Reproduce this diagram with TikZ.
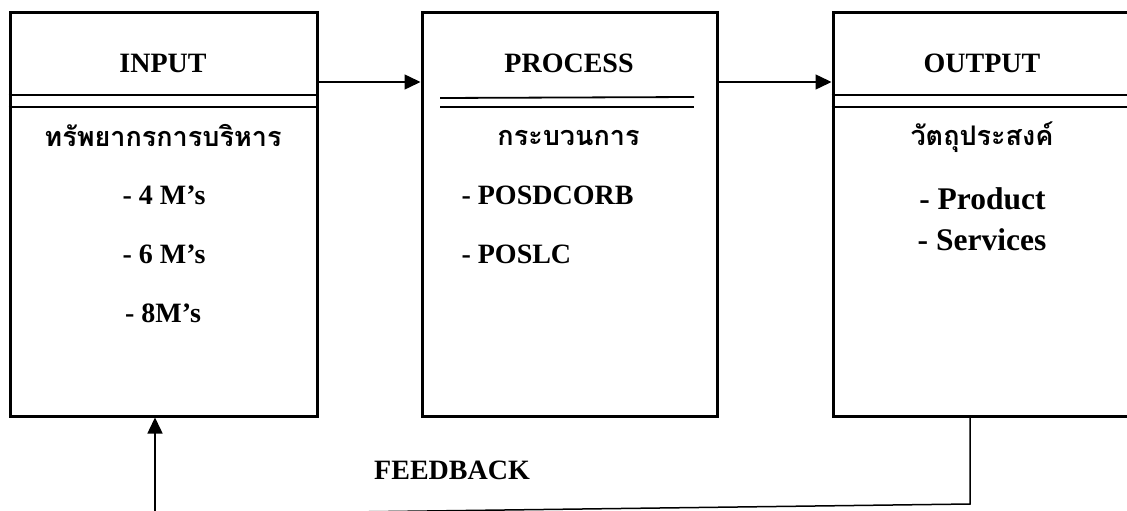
\documentclass[tikz,border=0pt]{standalone}
\usepackage{fontspec}
\setmainfont{Liberation Serif}
\newfontfamily\thaifont[Script=Thai]{Loma}
\usetikzlibrary{arrows.meta}
\begin{document}
\begin{tikzpicture}[x=1pt,y=-1pt,
  box/.style={draw,line width=3pt,minimum width=#1,minimum height=403pt,inner sep=0pt},
  dbl/.style={line width=1.8pt},
  arr/.style={line width=1.5pt,-{Triangle[length=16pt,width=15pt]}},
  fb/.style={line width=1.5pt},
  hd/.style={anchor=base,font=\fontsize{28}{30}\selectfont\bfseries},
  th/.style={anchor=base,font=\fontsize{27}{30}\selectfont\thaifont\bfseries},
  itA/.style={anchor=base,font=\fontsize{28}{30}\selectfont\bfseries},
  itB/.style={anchor=base west,font=\fontsize{28}{30}\selectfont\bfseries},
  itC/.style={anchor=base,font=\fontsize{31.5}{33}\selectfont\bfseries}]
\useasboundingbox (0,0) rectangle (1127,511);
\node[box=307pt] (inbox) at (163.5,214.5) {};
\node[box=295pt] (procbox) at (569.5,214.5) {};
\node[box=302pt] (outbox) at (984,214.5) {};
% double lines
\draw[dbl] (inbox.west |- 0,95) -- (inbox.east |- 0,95);
\draw[dbl] (inbox.west |- 0,107) -- (inbox.east |- 0,107);
\draw[dbl] (440,98) -- (694,97);
\draw[dbl] (440,107) -- (694,107);
\draw[dbl] (outbox.west |- 0,95) -- (outbox.east |- 0,95);
\draw[dbl] (outbox.west |- 0,107) -- (outbox.east |- 0,107);
% texts
\node[hd] (tin) at (163,73) {INPUT};
\node[th] (tin1) at (163,146) {ทรัพยากรการบริหาร};
\node[itA] (tin2) at (164,204) {- 4 M’s};
\node[itA] (tin3) at (164,263) {- 6 M’s};
\node[itA] (tin4) at (163,322) {- 8M’s};
\node[hd] (tpr) at (569,73) {PROCESS};
\node[th] (tpr1) at (568.5,145) {กระบวนการ};
\node[itB] (tpr2) at (458,204) {- POSDCORB};
\node[itB] (tpr3) at (458,263) {- POSLC};
\node[hd] (tout) at (982,73) {OUTPUT};
\node[th] (tout1) at (982,145) {วัตถุประสงค์};
\node[itC] (tout2) at (982.5,209) {- Product};
\node[itC] (tout3) at (982,250) {- Services};
\node[hd] (tfb) at (452,479) {FEEDBACK};
% arrows
\coordinate (ya) at (0,82);
\draw[arr] (inbox.east |- ya) -- (procbox.west |- ya);
\draw[arr] (procbox.east |- ya) -- (outbox.west |- ya);
\coordinate (c1) at (970,504);
\coordinate (c2) at (155,514.5);
\draw[fb] (outbox.south -| c1) -- (c1) -- (c2);
\draw[arr] (c2) -- (inbox.south -| c2);
\end{tikzpicture}
\end{document}
